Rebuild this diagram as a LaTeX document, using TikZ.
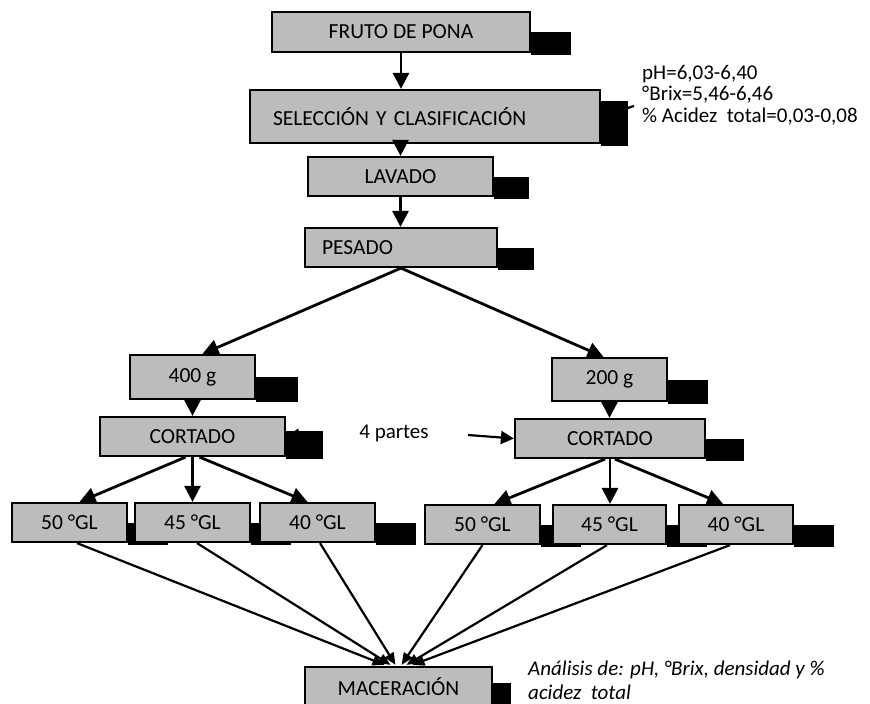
\documentclass[tikz,border=0pt]{standalone}
\usepackage{fontspec}
\setmainfont{Carlito}
\usetikzlibrary{calc,arrows.meta,backgrounds}
\definecolor{boxgray}{RGB}{188,188,188}
\def\boxshadow(#1:#2:#3){\fill[black] ($(#1.east)+(0,#3)$) rectangle ($(#1.south east)+(#2,1.8)$);}

\tikzset{
	procbox/.style={draw=black, line width=2.2pt, fill=boxgray, inner sep=0pt, font=\fontsize{21.5}{23}\selectfont},
	flow/.style={line width=2.8pt, -{Triangle[width=16pt,length=16pt]}},
	feed/.style={line width=2.2pt, -{Triangle[width=13pt,length=13pt]}},
	tomac/.style={line width=2.2pt, -{Triangle[width=10pt,length=12pt]}},
	note/.style={font=\fontsize{21}{21.5}\selectfont, align=left, inner sep=0pt}
}

\begin{document}
\begin{tikzpicture}[x=1pt, y=-1pt]
			%%%%% START %%%%%
			\useasboundingbox (0, 0) rectangle (870, 704);
			
			\node[procbox, minimum width=258pt, minimum height=40pt] (fruto) at (401, 32) {FRUTO DE PONA};
			\node[procbox, minimum height=53pt, text width=304pt, inner xsep=23pt, align=left] (selec) at (425, 116.5) {SELECCIÓN Y CLASIFICACIÓN};
			\node[procbox, minimum width=185pt, minimum height=39pt] (lavado) at (400.5, 176.5) {LAVADO};
			\node[procbox, minimum height=39pt, text width=158pt, inner xsep=17pt, align=left] (pesado) at (401, 247.5) {PESADO};
			
			\node[procbox, minimum width=125pt, minimum height=44pt] (g400) at (192.5, 377) {400 g};
			\node[procbox, minimum width=115pt, minimum height=43pt] (g200) at (609.5, 379.5) {200 g};
			\node[procbox, minimum width=185pt, minimum height=39pt] (cortL) at (192.5, 436.5) {CORTADO};
			\node[procbox, minimum width=190pt, minimum height=39pt] (cortR) at (610, 438.5) {CORTADO};
			
			\node[procbox, minimum width=115pt, minimum height=39pt] (glL50) at (69.5, 522.5) {50 °GL};
			\node[procbox, minimum width=115pt, minimum height=39pt] (glL45) at (192.5, 522.5) {45 °GL};
			\node[procbox, minimum width=115pt, minimum height=39pt] (glL40) at (317.5, 522.5) {40 °GL};
			\node[procbox, minimum width=115pt, minimum height=39pt] (glR50) at (482.5, 524.5) {50 °GL};
			\node[procbox, minimum width=113pt, minimum height=39pt] (glR45) at (609.5, 524.5) {45 °GL};
			\node[procbox, minimum width=114pt, minimum height=39pt] (glR40) at (736, 524.5) {40 °GL};
			
			\node[procbox, minimum width=187pt, minimum height=39pt] (mac) at (398.5, 686.5) {MACERACIÓN};
			
			\begin{scope}[on background layer]
				\boxshadow(fruto:40:0)
				\boxshadow(selec:27:-16)
				\boxshadow(lavado:35:0)
				\boxshadow(pesado:36:0)
				\boxshadow(g400:42:0)
				\boxshadow(g200:40:0)
				\boxshadow(cortL:37:-6)
				\boxshadow(cortR:38:0)
				\boxshadow(glL50:40:0)
				\boxshadow(glL45:40:0)
				\boxshadow(glL40:40:0)
				\boxshadow(glR50:40:0)
				\boxshadow(glR45:40:0)
				\boxshadow(glR40:40:0)
				\boxshadow(mac:18:-4)
			\end{scope}
			
			\node[note, anchor=west] (calidad) at (642, 95) {pH=6,03-6,40\\°Brix=5,46-6,46\\\% Acidez\ \ total=0,03-0,08};
			\node[note] (partes) at (394, 433) {4 partes};
			\node[note, anchor=west, font=\fontsize{21}{24}\selectfont\itshape] (analisis) at (528, 680) {Análisis de: pH, °Brix, densidad y \%\\acidez\ \ total};
			
			\coordinate (qtail) at (634, 106);
			\coordinate (ptail) at (468, 435);
			\coordinate (pleft) at (322, 433);
			
			\draw[flow] (fruto.south) -- (fruto.south |- selec.north);
			\draw[flow] (lavado.north |- selec.south) -- (lavado.north);
			\draw[flow] (lavado.south) -- (lavado.south |- pesado.north);
			\draw[flow] (pesado.south) -- ($(g400.north)+(10, 0)$);
			\draw[flow] (pesado.south) -- ($(g200.north)+(-6, 0)$);
			\draw[flow] (g400.south) -- (g400.south |- cortL.north);
			\draw[flow] (g200.south) -- (g200.south |- cortR.north);
			
			\draw[flow] ($(cortL.south)+(-7, 0)$) -- ($(glL50.north)+(10, 0)$);
			\draw[flow] (cortL.south) -- (glL45.north);
			\draw[flow] ($(cortL.south)+(7, 0)$) -- ($(glL40.north)+(-10, 0)$);
			\draw[flow] ($(cortR.south)+(-5, 0)$) -- ($(glR50.north)+(12, 0)$);
			\draw[flow] (cortR.south) -- (cortR.south |- glR45.north);
			\draw[flow] ($(cortR.south)+(5, 0)$) -- ($(glR40.north)+(-13, 0)$);
			
			\draw[feed] (qtail) -- (selec.east);
			\draw[feed] (ptail) -- (cortR.west);
			\draw[feed] (pleft) -- (cortL.east);
			
			\draw[tomac] ($(glL50.south)+(7.5, 0)$) -- ($(mac.north)+(-14, -1)$);
			\draw[tomac] ($(glL45.south)+(4.5, 0)$) -- ($(mac.north)+(-8, -1)$);
			\draw[tomac] ($(glL40.south)+(2.5, 0)$) -- ($(mac.north)+(-3, -1)$);
			\draw[tomac] (glR50.south) -- ($(mac.north)+(3, -1)$);
			\draw[tomac] ($(glR45.south)+(-2.5, 0)$) -- ($(mac.north)+(8, -1)$);
			\draw[tomac] ($(glR40.south)+(-6, 0)$) -- ($(mac.north)+(14, -1)$);
			
			%%%%% END %%%%%
\end{tikzpicture}
\end{document}
